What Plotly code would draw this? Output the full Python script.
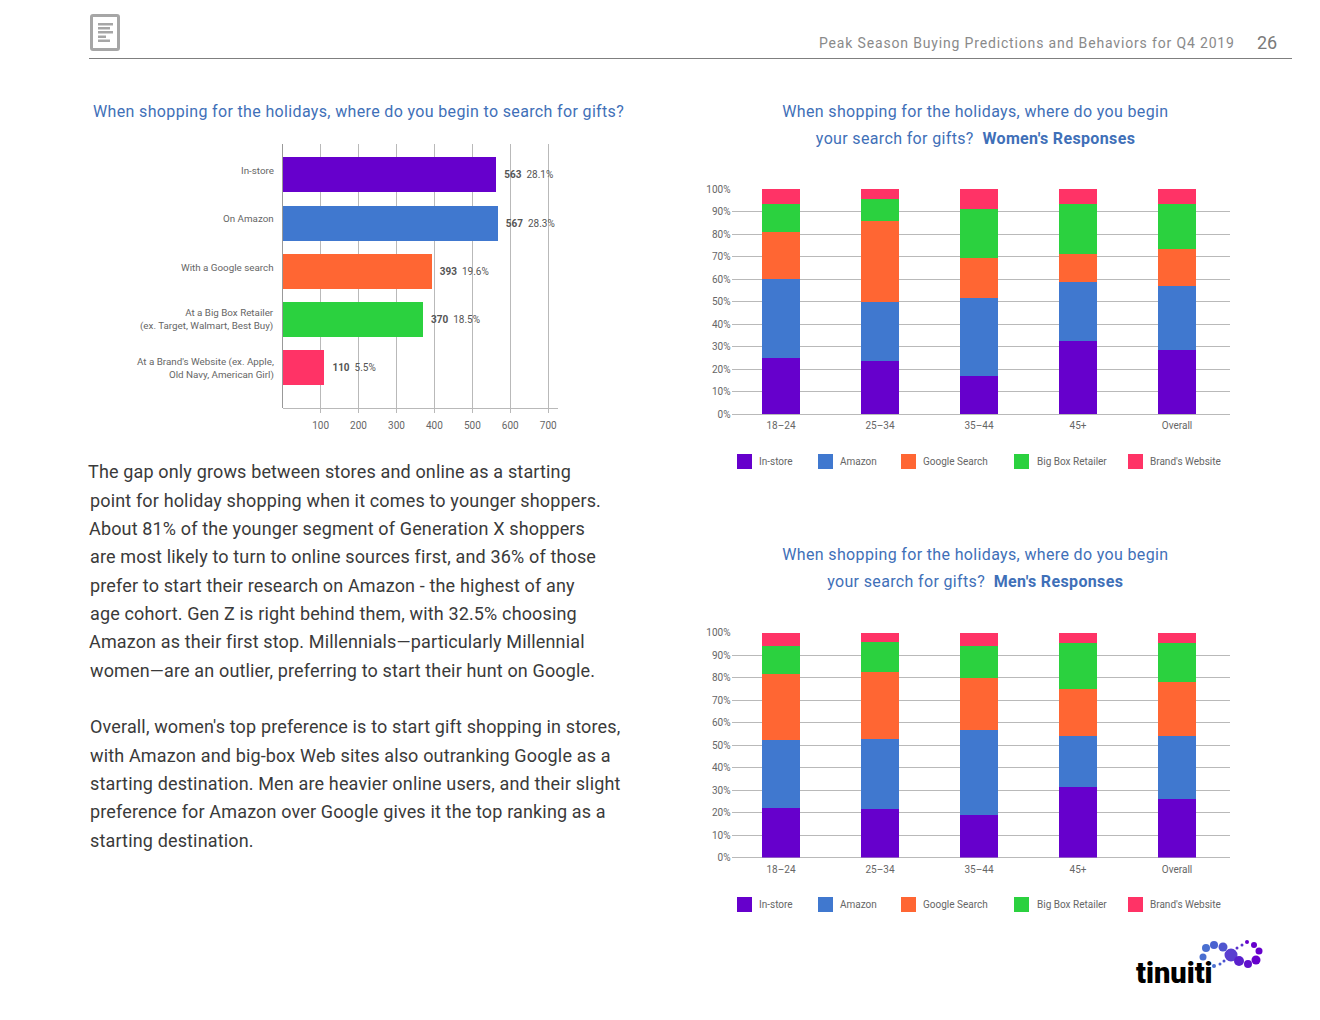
import plotly.graph_objects as go

W, H = 1320, 1020
FONT = "Roboto"
GRID = "#b9b9b9"
TXT = "#666666"
BLUE = "#3f70b8"

bar_categories = ["In-store", "On Amazon", "With a Google search",
                  "At a Big Box Retailer<br>(ex. Target, Walmart, Best Buy)",
                  "At a Brand's Website (ex. Apple,<br>Old Navy, American Girl)"]
bar_label_shift = [4, 5, 4, 0, -1]
bar_values = [563, 567, 393, 370, 110]
bar_shares = ["28.1%", "28.3%", "19.6%", "18.5%", "5.5%"]
colors = ["#6600cc", "#4078cf", "#ff6633", "#2bd13f", "#ff3366"]

ages = ["18–24", "25–34", "35–44", "45+", "Overall"]
series_names = ["In-store", "Amazon", "Google Search", "Big Box Retailer", "Brand's Website"]

women_instore = [25.0, 23.7, 17.0, 32.6, 28.6]
women_amazon = [35.1, 26.3, 34.7, 26.2, 28.4]
women_google = [20.9, 36.0, 17.8, 12.5, 16.5]
women_bigbox = [12.5, 9.7, 21.5, 22.2, 20.0]
women_brand = [6.5, 4.3, 9.0, 6.5, 6.5]

men_instore = [22.2, 21.7, 19.1, 31.5, 26.2]
men_amazon = [30.2, 31.1, 37.7, 22.6, 27.9]
men_google = [29.3, 29.7, 23.1, 20.9, 24.0]
men_bigbox = [12.4, 13.4, 14.2, 20.4, 17.3]
men_brand = [5.9, 4.1, 5.9, 4.6, 4.6]

women = [women_instore, women_amazon, women_google, women_bigbox, women_brand]
men = [men_instore, men_amazon, men_google, men_bigbox, men_brand]

para_lines = [
    (87.5, 471, "The gap only grows between stores and online as a starting"),
    (89.5, 500, "point for holiday shopping when it comes to younger shoppers."),
    (88.5, 528, "About 81% of the younger segment of Generation X shoppers"),
    (89.5, 556, "are most likely to turn to online sources first, and 36% of those"),
    (89.5, 585, "prefer to start their research on Amazon - the highest of any"),
    (89.5, 613, "age cohort. Gen Z is right behind them, with 32.5% choosing"),
    (88.5, 641, "Amazon as their first stop. Millennials—particularly Millennial"),
    (89.5, 670, "women—are an outlier, preferring to start their hunt on Google."),
    (89.5, 726, "Overall, women's top preference is to start gift shopping in stores,"),
    (89.5, 755, "with Amazon and big-box Web sites also outranking Google as a"),
    (89.5, 783, "starting destination. Men are heavier online users, and their slight"),
    (89.5, 811, "preference for Amazon over Google gives it the top ranking as a"),
    (89.5, 840, "starting destination."),
]

logo_dots = [(1203, 957, 3.5), (1206, 948, 4), (1214, 945, 4), (1223, 947, 4.5), (1231, 955, 6.5),
             (1239, 961, 5), (1248, 964, 4), (1256, 960, 4.5), (1259, 951, 3.5), (1254, 945, 3),
             (1247, 942, 2), (1242, 945, 1.5), (1237, 948, 1.5), (1224, 961, 1.5), (1220, 964, 1.5),
             (1214, 966, 2)]
logo_cols = ["#4a6fd0", "#4a6fd0", "#4a62d0", "#4f55cf", "#5a3fd0", "#5a20cc", "#6010cc", "#6600cc",
             "#6600cc", "#6600cc", "#6600cc", "#5a30cc", "#5a30cc", "#4a50d0", "#4a60d0", "#4a70d0"]


def X(p):
    return p / W


def Y(p):
    return 1 - p / H


fig = go.Figure()

fig.add_trace(go.Bar(
    y=bar_categories, x=bar_values, orientation="h", width=0.725,
    marker=dict(color=colors, line=dict(width=0)),
    text=[f"\u00a0\u00a0<b>{v}</b>  {s}" for v, s in zip(bar_values, bar_shares)],
    textposition="outside", cliponaxis=False,
    textfont=dict(family=FONT, size=10, color="#555555"),
    xaxis="x", yaxis="y", showlegend=False,
))

for data, xa, ya in ((women, "x2", "y2"), (men, "x3", "y3")):
    for name, vals, col in zip(series_names, data, colors):
        fig.add_trace(go.Bar(x=ages, y=vals, name=name, width=0.39,
                             marker=dict(color=col, line=dict(width=0)),
                             xaxis=xa, yaxis=ya, showlegend=False))

tickf = dict(family=FONT, size=10, color=TXT)


def stacked_axes(top, bottom):
    xa = dict(domain=[X(731.5), X(1230)], range=[-0.5, 4.535], type="category",
              categoryorder="array", categoryarray=ages, showgrid=False, zeroline=False,
              showline=False, ticks="", tickfont=tickf, ticklabelstandoff=4)
    ya = dict(domain=[Y(bottom), Y(top)], range=[0, 100], tick0=0, dtick=10, ticksuffix="%",
              showgrid=True, gridcolor=GRID, gridwidth=1, zeroline=True, zerolinecolor=GRID,
              zerolinewidth=1, tickfont=tickf, ticks="", showline=False, ticklabelstandoff=1)
    return xa, ya


x2, y2 = stacked_axes(189, 414)
x3, y3 = stacked_axes(632.5, 857.5)
x2["anchor"], y2["anchor"] = "y2", "free"
x3["anchor"], y3["anchor"] = "y3", "free"
y2["position"] = X(731.5)
y3["position"] = X(731.5)

fig.update_layout(
    width=W, height=H, margin=dict(l=0, r=0, t=0, b=0, autoexpand=False), autosize=False,
    paper_bgcolor="white", plot_bgcolor="white", barmode="stack", bargap=0.61,
    xaxis=dict(domain=[X(282.7), X(557.7)], range=[0, 725], tickvals=[100, 200, 300, 400, 500, 600, 700],
               showgrid=True, gridcolor=GRID, gridwidth=1, zeroline=True, zerolinecolor="#999999",
               zerolinewidth=1, showline=True, linecolor=GRID, linewidth=1, ticks="outside", ticklen=4,
               tickcolor=GRID, tickfont=tickf, anchor="y", ticklabelstandoff=4),
    yaxis=dict(domain=[Y(408), Y(144)], range=[4.83, -0.64], type="category",
               categoryorder="array", categoryarray=bar_categories, showgrid=False, zeroline=False,
               showline=False, ticks="", showticklabels=False, anchor="x"),
    xaxis2=x2, yaxis2=y2, xaxis3=x3, yaxis3=y3,
)

ann = []
shapes = []


def text(x, y, s, size, color, anchor="left", family=FONT, weight=None):
    f = dict(family=family, size=size, color=color)
    if weight:
        f["weight"] = weight
    ann.append(dict(xref="paper", yref="paper", x=X(x), y=Y(y), text=s, showarrow=False,
                    xanchor=anchor, yanchor="middle", align=anchor, font=f,
                    borderpad=0, borderwidth=0))


def rect(x0, y0, x1, y1, fill, line=None, lw=0):
    shapes.append(dict(type="rect", xref="paper", yref="paper", x0=X(x0), x1=X(x1), y0=Y(y0), y1=Y(y1),
                       fillcolor=fill, line=dict(color=line or fill, width=lw), layer="above"))


# category labels of the horizontal bar chart, bound to the category axis
for cat, dy in zip(bar_categories, bar_label_shift):
    ann.append(dict(xref="paper", yref="y", x=X(275), y=cat, yshift=dy, text=cat, showarrow=False,
                    xanchor="right", yanchor="middle", align="right", borderpad=0,
                    font=dict(family=FONT, size=9.8, color=TXT)))

# header
text(1234.5, 43, "Peak Season Buying Predictions and Behaviors for Q4 2019", 14, "#8a8a8a", "right")
text(1277, 43, "26", 18, "#7a7a7a", "right")
shapes.append(dict(type="line", xref="paper", yref="paper", x0=X(89), x1=X(1292), y0=Y(58.5), y1=Y(58.5),
                   line=dict(color="#7f7f7f", width=1)))
# icon
shapes.append(dict(type="path", xref="paper", yref="paper", line=dict(color="#a6a6a6", width=3), fillcolor="white",
                   path=f"M {X(93)} {Y(15.5)} L {X(117)} {Y(15.5)} Q {X(118.5)} {Y(15.5)} {X(118.5)} {Y(17)} "
                        f"L {X(118.5)} {Y(48)} Q {X(118.5)} {Y(49.5)} {X(117)} {Y(49.5)} L {X(93)} {Y(49.5)} "
                        f"Q {X(91.5)} {Y(49.5)} {X(91.5)} {Y(48)} L {X(91.5)} {Y(17)} Q {X(91.5)} {Y(15.5)} {X(93)} {Y(15.5)} Z"))
for yy, ww in ((23, 15), (27, 12), (31, 15), (35.5, 8), (39.5, 12)):
    rect(98, yy, 98 + ww, yy + 2.5, "#a6a6a6")

# titles
text(92.7, 111.3, "When shopping for the holidays, where do you begin to search for gifts?", 16, BLUE)
text(975, 111.3, "When shopping for the holidays, where do you begin", 16, BLUE, "center")
text(975, 138.5, "your search for gifts?  <b>Women's Responses</b>", 16, BLUE, "center")
text(975, 554.3, "When shopping for the holidays, where do you begin", 16, BLUE, "center")
text(975, 581.3, "your search for gifts?  <b>Men's Responses</b>", 16, BLUE, "center")

# paragraph
for x, y, s in para_lines:
    text(x, y, s, 18, "#3a3a3a")

# legends
legend_sw = [737, 818, 901, 1014, 1128]
legend_tx = [759, 839.5, 923, 1036.5, 1150]
for ly in (461.5, 904.5):
    for sx, tx, name, col in zip(legend_sw, legend_tx, series_names, colors):
        rect(sx, ly - 7.5, sx + 15, ly + 7.5, col)
        text(tx, ly, name, 10, TXT)

# logo
text(1136, 973, "tinuiti", 29, "#000000", family="Roboto", weight=900)
for (cx, cy, r), c in zip(logo_dots, logo_cols):
    shapes.append(dict(type="circle", xref="paper", yref="paper", x0=X(cx - r), x1=X(cx + r),
                       y0=Y(cy - r), y1=Y(cy + r), fillcolor=c, line=dict(width=0)))

fig.update_layout(annotations=ann, shapes=shapes)

# plotly has no letter-spacing attribute; the reference text is tracked out
spacing_js = """
document.body.style.margin='0';document.body.style.overflow='hidden';
var sp={'14px':0.84,'16px':0.35,'18px':0.15};
document.querySelectorAll('.annotation-text').forEach(function(t){
  var v=sp[t.style.fontSize];
  if(v&&t.textContent!=='26'){t.style.letterSpacing=v+'px';}
});
"""
fig.write_html("out.html", post_script=spacing_js, config={"displayModeBar": False})
